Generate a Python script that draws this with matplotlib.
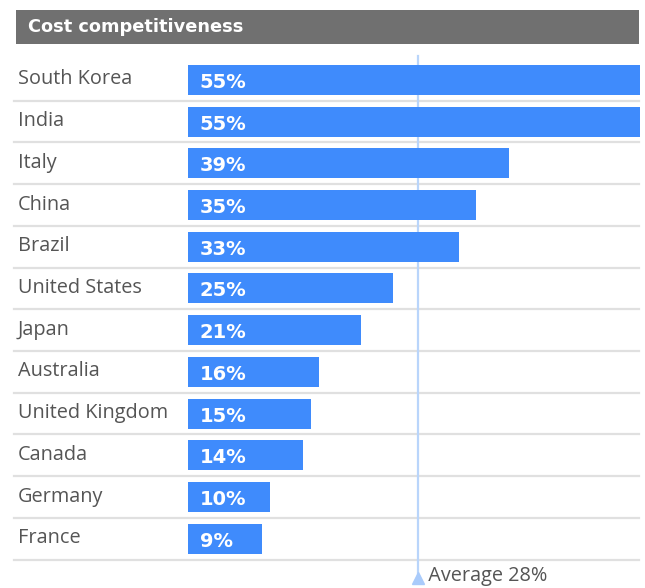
import matplotlib.pyplot as plt
from matplotlib.patches import Rectangle
from matplotlib.transforms import blended_transform_factory

plt.rcParams["font.family"] = ["Open Sans", "DejaVu Sans"]
BOLD_FONT = ["DejaVu Sans"]

countries = ["South Korea", "India", "Italy", "China", "Brazil", "United States",
             "Japan", "Australia", "United Kingdom", "Canada", "Germany", "France"]
values = [55, 55, 39, 35, 33, 25, 21, 16, 15, 14, 10, 9]
average = 28
title = "Cost competitiveness"

W, H = 645, 588
fig = plt.figure(figsize=(W / 100, H / 100), dpi=100)

# bar area in pixel terms
x0, x1 = 188, 640
y_top, y_bot = 59, 559.6
ax = fig.add_axes([x0 / W, 1 - y_bot / H, (x1 - x0) / W, (y_bot - y_top) / H])
ax.set_xlim(0, 55)
ax.set_ylim(len(countries) - 0.5, -0.5)
ax.axis("off")

bar_color = "#3f8bfc"
rows = list(range(len(countries)))
ax.barh(rows, values, height=0.72, color=bar_color, zorder=3)

lab_tr = blended_transform_factory(fig.transFigure, ax.transData)
for i, (name, v) in enumerate(zip(countries, values)):
    ax.text(18 / W, i - 0.01, name, transform=lab_tr, ha="left", va="center",
            fontsize=14.3, color="#555555")
    ax.text(1.45, i + 0.06, f"{v}%", ha="left", va="center", fontsize=14,
            fontweight="bold", family=BOLD_FONT, color="white", zorder=4)

# row separators
for i in rows:
    ax.plot([14 / W, 639 / W], [i + 0.5, i + 0.5], transform=lab_tr, color="#e0e0e0",
            lw=1.6, clip_on=False, zorder=1)

# average marker line
avg_tr = blended_transform_factory(ax.transData, fig.transFigure)
ax.plot([average, average], [1 - 56 / H, 1 - 578 / H], transform=avg_tr, color="#b9d5fb",
        lw=1.6, clip_on=False, zorder=2)
ax.plot([average], [1 - 578 / H], transform=avg_tr, marker="^", markersize=9,
        color="#a9cbfb", clip_on=False, zorder=5)
ax.text(average, 1 - 576 / H, "  Average 28%", transform=avg_tr, ha="left", va="center",
        fontsize=14.3, color="#555555")

# title bar
fig.patches.append(Rectangle((16 / W, 1 - 44 / H), 623 / W, 34 / H, transform=fig.transFigure,
                             facecolor="#707070", edgecolor="none"))
fig.text(28 / W, 1 - 27 / H, title, ha="left", va="center", fontsize=12.8, fontweight="bold",
         family=BOLD_FONT, color="white")

fig.savefig("out.png", dpi=100)
